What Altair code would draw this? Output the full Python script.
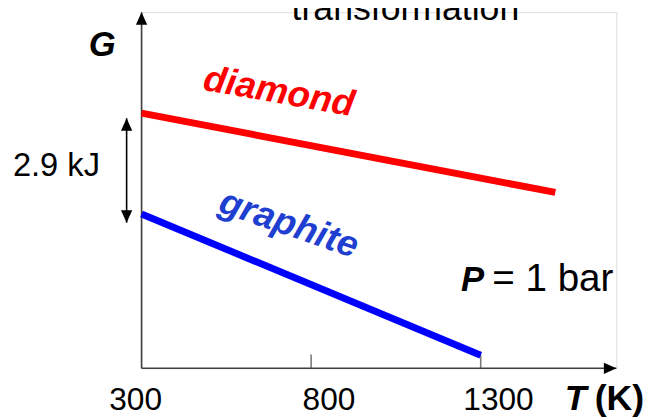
import altair as alt
import pandas as pd

# ---- data ----
phases = ["diamond", "diamond", "graphite", "graphite"]
T_values = [300, 1520, 300, 1300]          # K
G_values = [2.9, 0.62, 0.0, -4.06]          # kJ (relative)
tick_values = [300, 800, 1300]
tick_labels = ["300", "800", "1300"]
T_range = [300, 1700]                       # x axis extent (to arrow tip)
G_range = [-4.435, 5.80]                    # y axis extent (to arrow tip)
gap_T = 256                                 # position of the 2.9 kJ arrow
gap_ends = [2.75, -0.25]

FONT = "Liberation Sans"
W, H = 480, 360

xs = alt.Scale(domain=T_range, nice=False, zero=False)
ys = alt.Scale(domain=G_range, nice=False, zero=False)


def X(field="T"):
    return alt.X(f"{field}:Q", scale=xs, axis=None)


def Y(field="G"):
    return alt.Y(f"{field}:Q", scale=ys, axis=None)


lines_df = pd.DataFrame({"phase": phases, "T": T_values, "G": G_values})
lines = alt.Chart(lines_df).mark_line(strokeWidth=7, strokeCap="butt").encode(
    x=X(), y=Y(),
    color=alt.Color("phase:N", scale=alt.Scale(domain=["diamond", "graphite"],
                                               range=["#ff0000", "#0000ff"]),
                    legend=None),
    detail="phase:N",
)

axes_df = pd.DataFrame({
    "T": [T_range[0], T_range[0]],
    "T2": [T_range[0], T_range[1]],
    "G": [G_range[0], G_range[0]],
    "G2": [G_range[1], G_range[0]],
})
axes = alt.Chart(axes_df).mark_rule(color="#404040", strokeWidth=1.6).encode(
    x=X(), x2="T2:Q", y=Y(), y2="G2:Q")

UP = "M0,0L-0.9,2L0.9,2Z"
DOWN = "M0,0L-0.9,-2L0.9,-2Z"
RIGHT = "M0,0L-2,-0.9L-2,0.9Z"


def head(T, G, shape):
    return alt.Chart(pd.DataFrame({"T": [T], "G": [G]})).mark_point(
        shape=shape, filled=True, size=160, color="black", opacity=1, strokeWidth=0
    ).encode(x=X(), y=Y())


heads = [
    head(T_range[0], G_range[1], UP),
    head(T_range[1], G_range[0], RIGHT),
    head(gap_T, gap_ends[0], UP),
    head(gap_T, gap_ends[1], DOWN),
]

gap_df = pd.DataFrame({"T": [gap_T], "G": [gap_ends[0]], "G2": [gap_ends[1]]})
gap_rule = alt.Chart(gap_df).mark_rule(color="black", strokeWidth=1.6).encode(
    x=X(), y=Y(), y2="G2:Q")

ticks_df = pd.DataFrame({"T": tick_values[1:], "G": [G_range[0]] * 2})
ticks = alt.Chart(ticks_df).mark_tick(orient="vertical", size=14, yOffset=-7,
                                      thickness=1.6, color="#404040").encode(
    x=X(), y=Y())

lab_df = pd.DataFrame({"T": tick_values, "label": tick_labels,
                       "G": [G_range[0]] * 3})
lab_first = alt.Chart(lab_df.iloc[:1]).mark_text(
    font=FONT, fontSize=32, dx=-6, baseline="alphabetic", dy=42, color="black"
).encode(x=X(), y=Y(), text="label:N")
lab_rest = alt.Chart(lab_df.iloc[1:]).mark_text(
    font=FONT, fontSize=32, dx=18, baseline="alphabetic", dy=42, color="black"
).encode(x=X(), y=Y(), text="label:N")


def txt(T, G, s, **kw):
    base = dict(font=FONT, fontSize=32, color="black")
    base.update(kw)
    return alt.Chart(pd.DataFrame({"T": [T], "G": [G], "s": [s]})).mark_text(
        **base).encode(x=X(), y=Y(), text="s:N")


texts = [
    txt(1078, 5.58, "transformation", fontSize=36, baseline="alphabetic"),
    txt(184, 4.86, "G", fontSize=35, fontWeight="bold", fontStyle="italic"),
    txt(49, 1.39, "2.9 kJ", fontSize=33),
    txt(705, 3.50, "diamond", fontSize=37, fontWeight="bold", fontStyle="italic",
        color="#ff0000", angle=10),
    txt(734, -0.30, "graphite", fontSize=37, fontWeight="bold", fontStyle="italic",
        color="#1f3fd0", angle=19),
    txt(1310, -2.22, "P", fontSize=35, fontWeight="bold", fontStyle="italic",
        align="right", baseline="alphabetic"),
    txt(1334, -2.22, "= 1 bar", fontSize=39, align="left", baseline="alphabetic"),
    txt(1612, -5.63, "T", fontSize=36, fontWeight="bold", fontStyle="italic",
        align="right", baseline="alphabetic"),
    txt(1636, -5.63, "(K)", fontSize=36, fontWeight="bold", align="left",
        baseline="alphabetic"),
]

chart = alt.layer(axes, ticks, gap_rule, *heads, lines, lab_first, lab_rest,
                  *texts).properties(
    width=W, height=H,
    autosize=alt.AutoSizeParams(type="none"),
    padding={"left": 135, "top": 2, "right": 34, "bottom": 48},
).configure_view(stroke=None).configure(background="white")

chart.save("out.html", embed_options={"renderer": "svg", "actions": False})
